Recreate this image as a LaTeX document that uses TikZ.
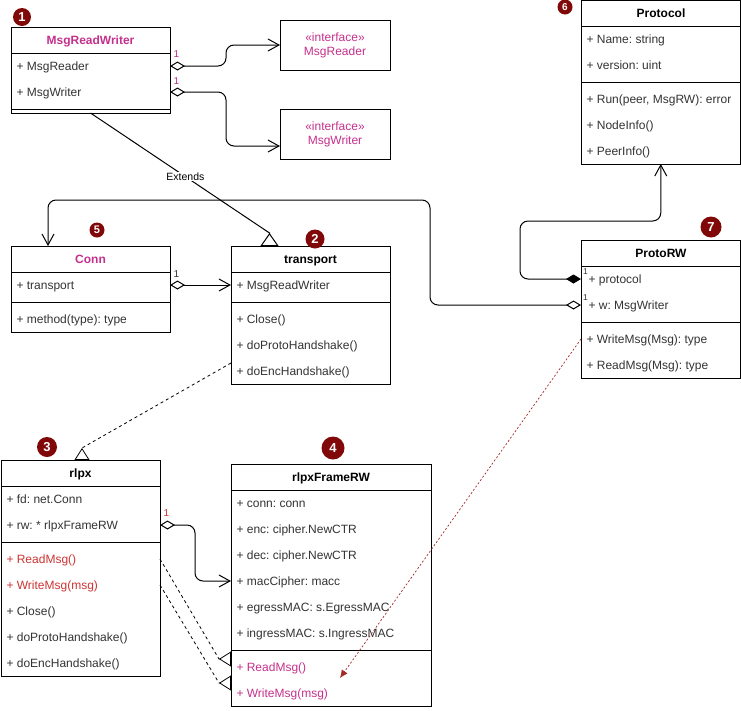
\documentclass[tikz,border=0pt]{standalone}
\usepackage{fontspec}
\setmainfont{Liberation Sans}
\usepackage{tikz}
\usetikzlibrary{arrows.meta,calc}
\definecolor{umlpink}{RGB}{196,48,140}
\definecolor{umlred}{RGB}{204,51,51}
\definecolor{badgered}{RGB}{128,8,8}
\definecolor{rowgray}{RGB}{51,51,51}

\begin{document}
\frenchspacing
\fontsize{12}{14}\selectfont
\begin{tikzpicture}[x=1pt, y=-1pt, line width=1pt,
    cls/.style={draw, anchor=north west, inner sep=0, outer sep=0},
    ttl/.style={font=\bfseries, inner sep=0, text height=8.6pt, text depth=0pt},
    row/.style={anchor=west, inner sep=0, text=rowgray, text height=8.6pt, text depth=0pt},
    iface/.style={draw, minimum width=110pt, minimum height=50pt, align=center, text=umlpink, inner sep=0, outer sep=0},
    num/.style={anchor=south west, inner sep=0, font=\fontsize{10}{10}\selectfont},
    badge/.style={circle, fill=badgered, text=white, inner sep=0, font=\bfseries\fontsize{13}{13}\selectfont},
    agg/.style={{Diamond[open,length=15pt,width=9pt]}-{Straight Barb[length=11pt,width=12pt]}, rounded corners=8pt},
    real/.style={dash pattern=on 3pt off 3pt, line width=0.8pt, -{Triangle[open,reversed,length=12pt,width=15pt]}}]
    \useasboundingbox (0,0) rectangle (741,710);

    \node[cls, minimum width=159pt, minimum height=86pt] (mrw) at (11,27) {};
    \draw (11,53) -- (170,53) (11,109) -- (170,109);
    \node[ttl, text=umlpink] (mrw-t) at (90.5,40) {MsgReadWriter};
    \node[row] (mrw-r) at (16,66) {+ MsgReader};
    \node[row] (mrw-w) at (16,92) {+ MsgWriter};

    \node[iface] (ird) at (335,45) {«interface»\\MsgReader};
    \node[iface] (iwr) at (335,134) {«interface»\\MsgWriter};

    \node[cls, minimum width=159pt, minimum height=86pt] (cn) at (11,246) {};
    \draw (11,272) -- (170,272) (11,302) -- (170,302);
    \node[ttl, text=umlpink] (cn-t) at (90.5,259) {Conn};
    \node[row] (cn-tr) at (16,285) {+ transport};
    \node[row] (cn-m) at (16,319) {+ method(type): type};

    \node[cls, minimum width=159pt, minimum height=138pt] (tr) at (231,246) {};
    \draw (231,272) -- (390,272) (231,302) -- (390,302);
    \node[ttl] (tr-t) at (310.5,259) {transport};
    \node[row] (tr-mrw) at (236,285) {+ MsgReadWriter};
    \node[row] (tr-cl) at (236,319) {+ Close()};
    \node[row] (tr-ph) at (236,345) {+ doProtoHandshake()};
    \node[row] (tr-eh) at (236,371) {+ doEncHandshake()};

    \node[cls, minimum width=159.5pt, minimum height=163.5pt] (proto) at (581,0.5) {};
    \draw (581,26) -- (740.5,26) (581,82) -- (740.5,82);
    \node[ttl] (proto-t) at (661,13) {Protocol};
    \node[row] (proto-n) at (586,39) {+ Name: string};
    \node[row] (proto-v) at (586,65) {+ version: uint};
    \node[row] (proto-r) at (586,99) {+ Run(peer, MsgRW): error};
    \node[row] (proto-ni) at (586,125) {+ NodeInfo()};
    \node[row] (proto-pi) at (586,151) {+ PeerInfo()};

    \node[cls, minimum width=159.5pt, minimum height=138pt] (prw) at (581,240) {};
    \draw (581,266) -- (740.5,266) (581,322) -- (740.5,322);
    \node[ttl] (prw-t) at (661,253) {ProtoRW};
    \node[row] (prw-p) at (588,279) {+ protocol};
    \node[row] (prw-w) at (588,305) {+ w: MsgWriter};
    \node[row] (prw-wm) at (586,339) {+ WriteMsg(Msg): type};
    \node[row] (prw-rm) at (586,365) {+ ReadMsg(Msg): type};

    \node[cls, minimum width=159pt, minimum height=216pt] (rx) at (1,460) {};
    \draw (1,486) -- (160,486) (1,542) -- (160,542);
    \node[ttl] (rx-t) at (80.5,473) {rlpx};
    \node[row] (rx-fd) at (6,499) {+ fd: net.Conn};
    \node[row] (rx-rw) at (6,525) {+ rw: * rlpxFrameRW};
    \node[row, text=umlred] (rx-rd) at (6,559) {+ ReadMsg()};
    \node[row, text=umlred] (rx-wr) at (6,585) {+ WriteMsg(msg)};
    \node[row] (rx-cl) at (6,611) {+ Close()};
    \node[row] (rx-ph) at (6,637) {+ doProtoHandshake()};
    \node[row] (rx-eh) at (6,663) {+ doEncHandshake()};

    \node[cls, minimum width=200pt, minimum height=242pt] (fr) at (231,464) {};
    \draw (231,490) -- (431,490) (231,650) -- (431,650);
    \node[ttl] (fr-t) at (331,477) {rlpxFrameRW};
    \node[row] (fr-cn) at (236,503) {+ conn: conn};
    \node[row] (fr-enc) at (236,529) {+ enc: cipher.NewCTR};
    \node[row] (fr-dec) at (236,555) {+ dec: cipher.NewCTR};
    \node[row] (fr-mac) at (236,581) {+ macCipher: macc};
    \node[row] (fr-eg) at (236,607) {+ egressMAC: s.EgressMAC};
    \node[row] (fr-in) at (236,633) {+ ingressMAC: s.IngressMAC};
    \node[row, text=umlpink] (fr-rd) at (236,667) {+ ReadMsg()};
    \node[row, text=umlpink] (fr-wr) at (236,693) {+ WriteMsg(msg)};

    \draw[agg] (mrw.east |- mrw-r) -- ++(56,0) |- (ird.west);
    \draw[agg] (mrw.east |- mrw-w) -- ++(56,0) |- ($(iwr.west)+(0,12)$);
    \node[num, text=umlpink] (m1) at (173,58) {1};
    \node[num, text=umlpink] (m2) at (173,85) {1};

    \draw[-{Triangle[open,reversed,length=13pt,width=18pt]}] (mrw.south)
        -- node[pos=0.53, fill=white, inner sep=1pt, font=\fontsize{10.5}{11}\selectfont] (ext) {Extends}
        ($(tr.north)+(-41,-13)$) -- ($(tr.north)+(-41,0)$);

    \draw[agg] (cn.east |- cn-tr) -- (tr.west |- cn-tr);
    \node[num, text=rowgray] (m3) at (173,278) {1};

    \draw[{Diamond[length=15pt,width=9pt]}-{Straight Barb[length=11pt,width=12pt]}, rounded corners=8pt]
        (prw.west |- prw-p) -| (520,221) -| (proto.south);
    \draw[agg] (prw.west |- prw-w) -| (430,200) -| ($(cn.north)+(-42.5,0)$);
    \node[num, text=rowgray, font=\fontsize{8.5}{9}\selectfont] (m4) at (582.5,275) {1};
    \node[num, text=rowgray, font=\fontsize{8.5}{9}\selectfont] (m5) at (582.5,301) {1};

    \coordinate (frin) at (340,678);
    \draw[umlred!80!black, dash pattern=on 2pt off 2pt, line width=0.7pt, -{Latex[length=8pt,width=7pt]}]
        (prw.west |- prw-wm) -- (frin);

    \draw[real] ($(tr.west |- tr-eh)+(0,-8)$) -- ($(rx.north)+(1.5,-12)$) -- ($(rx.north)+(1.5,0)$);

    \draw[agg] (rx.east |- rx-rw) -- ++(35,0) |- (fr.west |- fr-mac);
    \node[num, text=umlred] (m6) at (163,517) {1};

    \draw[real] (rx.east |- rx-rd) -- ($(fr.west |- fr-rd)+(-12,-8)$) -- ($(fr.west |- fr-rd)+(0,-8)$);
    \draw[real] (rx.east |- rx-wr) -- ($(fr.west |- fr-wr)+(-12,-10)$) -- ($(fr.west |- fr-wr)+(0,-10)$);

    \node[badge, minimum size=18pt] (b1) at (22,17) {1};
    \node[badge, minimum size=19pt] (b2) at (315,239) {2};
    \node[badge, minimum size=20pt] (b3) at (47,447) {3};
    \node[badge, minimum size=23pt] (b4) at (333,448) {4};
    \node[badge, minimum size=15pt, font=\bfseries\fontsize{11}{11}\selectfont] (b5) at (97,230) {5};
    \node[badge, minimum size=15pt, font=\bfseries\fontsize{10}{10}\selectfont] (b6) at (565,7) {6};
    \node[badge, minimum size=21pt] (b7) at (711,227) {7};
\end{tikzpicture}
\end{document}
